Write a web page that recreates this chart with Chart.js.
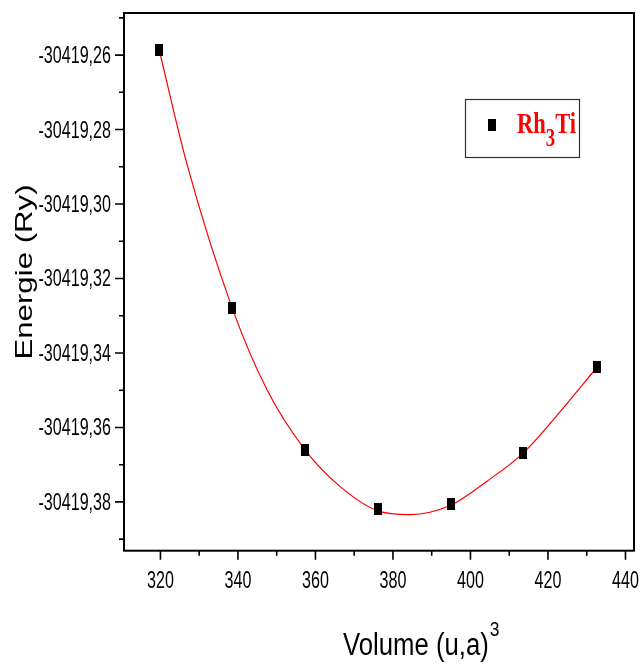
<!DOCTYPE html>
<html>
<head>
<meta charset="utf-8">
<script src="https://cdn.jsdelivr.net/npm/chart.js@4.4.1/dist/chart.umd.min.js"></script>
<style>
  html, body { margin: 0; padding: 0; background: #fff; }
  canvas { display: block; }
</style>
</head>
<body>
<canvas id="chart" width="642" height="665"></canvas>
<script>
// donnees
var volumes = [319.7, 338.5, 357.3, 376.1, 394.9, 413.6, 432.6];
var energies = [-30419.2587, -30419.3279, -30419.3660, -30419.3820, -30419.3806, -30419.3669, -30419.3439];

// courbe d'ajustement (points releves le long de la courbe rouge)
var fitVolumes = [319.7, 326.8, 338.5, 347.5, 357.3, 366.4, 376.1, 384.3, 394.9, 404.2, 413.6, 423.1, 432.6];
var fitEnergies = [-30419.2587, -30419.2891, -30419.3279, -30419.3499, -30419.3660, -30419.3759, -30419.3824,
                   -30419.3834, -30419.3809, -30419.3745, -30419.3669, -30419.3558, -30419.3439];

var xMajorTicks = [320, 340, 360, 380, 400, 420, 440];
var xMinorTicks = [330, 350, 370, 390, 410, 430];
var xTickLabels = ["320", "340", "360", "380", "400", "420", "440"];
var yMajorTicks = [-30419.26, -30419.28, -30419.30, -30419.32, -30419.34, -30419.36, -30419.38];
var yMinorTicks = [-30419.25, -30419.27, -30419.29, -30419.31, -30419.33, -30419.35, -30419.37, -30419.39];
var yTickLabels = ["-30419,26", "-30419,28", "-30419,30", "-30419,32", "-30419,34", "-30419,36", "-30419,38"];

var seriesName = ["Rh", "3", "Ti"];
var xTitle = "Volume (u,a)";
var xTitleSup = "3";
var yTitle = "Energie (Ry)";

var sans = "'Liberation Sans', Arial, sans-serif";
var serif = "'Liberation Serif', 'Times New Roman', serif";

// marqueur rectangulaire noir
var marker = document.createElement("canvas");
marker.width = 8;
marker.height = 12;
var mctx = marker.getContext("2d");
mctx.fillStyle = "#000";
mctx.fillRect(0, 0, 8, 12);

var points = volumes.map(function (v, i) { return { x: v, y: energies[i] }; });
var fitPoints = fitVolumes.map(function (v, i) { return { x: v, y: fitEnergies[i] }; });

function scaledText(ctx, text, x, y, sx, align) {
  ctx.save();
  ctx.translate(x, y);
  ctx.scale(sx, 1);
  ctx.textAlign = align;
  ctx.fillText(text, 0, 0);
  ctx.restore();
}

var frame = {
  id: "frame",
  afterDraw: function (chart) {
    var ctx = chart.ctx;
    var a = chart.chartArea;
    var xs = chart.scales.x;
    var ys = chart.scales.y;

    ctx.save();
    ctx.strokeStyle = "#000";
    ctx.lineWidth = 2;
    ctx.strokeRect(a.left, a.top, a.right - a.left, a.bottom - a.top);

    // graduations
    ctx.lineWidth = 1.6;
    ctx.beginPath();
    xMajorTicks.forEach(function (v) {
      var px = xs.getPixelForValue(v);
      ctx.moveTo(px, a.bottom); ctx.lineTo(px, a.bottom + 9);
    });
    xMinorTicks.forEach(function (v) {
      var px = xs.getPixelForValue(v);
      ctx.moveTo(px, a.bottom); ctx.lineTo(px, a.bottom + 5);
    });
    yMajorTicks.forEach(function (v) {
      var py = ys.getPixelForValue(v);
      ctx.moveTo(a.left, py); ctx.lineTo(a.left - 9, py);
    });
    yMinorTicks.forEach(function (v) {
      var py = ys.getPixelForValue(v);
      ctx.moveTo(a.left, py); ctx.lineTo(a.left - 5, py);
    });
    ctx.stroke();

    // etiquettes
    ctx.fillStyle = "#000";
    ctx.textBaseline = "alphabetic";
    ctx.font = "23px " + sans;
    xMajorTicks.forEach(function (v, i) {
      scaledText(ctx, xTickLabels[i], xs.getPixelForValue(v), a.bottom + 37, 0.7, "center");
    });
    yMajorTicks.forEach(function (v, i) {
      scaledText(ctx, yTickLabels[i], a.left - 13, ys.getPixelForValue(v) + 8, 0.7, "right");
    });

    // titres des axes
    ctx.font = "31px " + sans;
    ctx.save();
    ctx.translate(343, 655);
    ctx.scale(0.83, 1);
    ctx.textAlign = "left";
    ctx.fillText(xTitle, 0, 0);
    var w = ctx.measureText(xTitle).width;
    ctx.font = "21px " + sans;
    ctx.fillText(xTitleSup, w + 1, -19);
    ctx.restore();

    ctx.save();
    ctx.translate(32, 272);
    ctx.rotate(-Math.PI / 2);
    ctx.scale(1.3, 1);
    ctx.font = "24px " + sans;
    ctx.textAlign = "center";
    ctx.fillText(yTitle, 0, 0);
    ctx.restore();

    // legende
    ctx.strokeStyle = "#333";
    ctx.lineWidth = 1.2;
    ctx.strokeRect(465.5, 99.5, 114, 58);
    ctx.drawImage(marker, 488, 119);
    ctx.fillStyle = "#ff0000";
    ctx.font = "bold 30px " + serif;
    ctx.save();
    ctx.translate(517, 133);
    ctx.scale(0.75, 1);
    ctx.textAlign = "left";
    ctx.fillText(seriesName[0], 0, 0);
    var x1 = ctx.measureText(seriesName[0]).width;
    ctx.font = "bold 25px " + serif;
    ctx.fillText(seriesName[1], x1, 13);
    var x2 = x1 + ctx.measureText(seriesName[1]).width;
    ctx.font = "bold 30px " + serif;
    ctx.fillText(seriesName[2], x2, 0);
    ctx.restore();

    ctx.restore();
  }
};

new Chart(document.getElementById("chart").getContext("2d"), {
  type: "scatter",
  data: {
    datasets: [{
      type: "line",
      label: "fit",
      data: fitPoints,
      borderColor: "#ff0000",
      borderWidth: 1.2,
      pointRadius: 0,
      fill: false,
      cubicInterpolationMode: "monotone",
      order: 2
    }, {
      label: "Rh3Ti",
      data: points,
      pointStyle: marker,
      pointRadius: 6,
      order: 1
    }]
  },
  options: {
    responsive: false,
    animation: false,
    devicePixelRatio: 1,
    layout: { padding: { top: 13, left: 0, right: 8, bottom: 0 } },
    plugins: { legend: { display: false }, tooltip: { enabled: false } },
    scales: {
      x: {
        type: "linear",
        min: 310.6,
        max: 442.2,
        grid: { display: false },
        border: { display: false },
        ticks: { display: false },
        afterFit: function (s) { s.height = 114.3; s.paddingLeft = 0; s.paddingRight = 0; }
      },
      y: {
        type: "linear",
        min: -30419.3931,
        max: -30419.2487,
        grid: { display: false },
        border: { display: false },
        ticks: { display: false },
        afterFit: function (s) { s.width = 124; s.paddingTop = 0; s.paddingBottom = 0; }
      }
    }
  },
  plugins: [frame]
});
</script>
</body>
</html>
